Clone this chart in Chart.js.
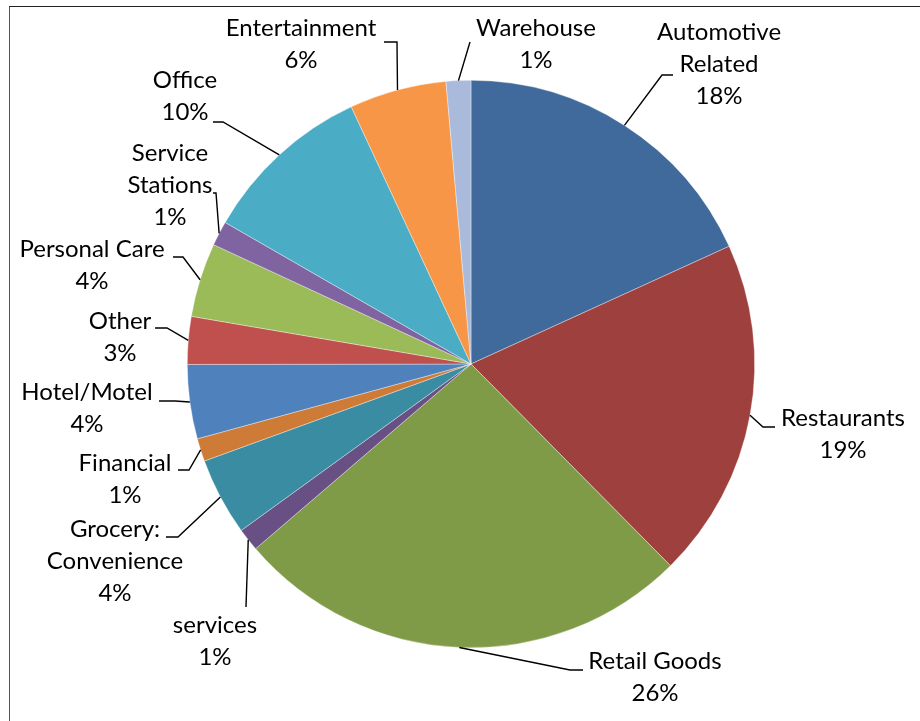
<!DOCTYPE html>
<html>
<head>
<meta charset="utf-8">
<script src="https://cdn.jsdelivr.net/npm/chart.js@4/dist/chart.umd.min.js"></script>
<style>
  html, body { margin: 0; padding: 0; background: #fff; }
  #wrap { position: relative; width: 920px; height: 721px; overflow: hidden; }
  #frame { position: absolute; left: 9px; top: 6px; width: 1000px; height: 1000px;
           border-top: 1.5px solid #222; border-left: 1.5px solid #555; box-sizing: border-box; }
  canvas { position: absolute; left: 0; top: 0; }
</style>
</head>
<body>
<div id="wrap">
  <div id="frame"></div>
  <canvas id="pie" width="920" height="721"></canvas>
</div>
<script>
const categories = [
  'Automotive Related', 'Restaurants', 'Retail Goods', 'services',
  'Grocery: Convenience', 'Financial', 'Hotel/Motel', 'Other',
  'Personal Care', 'Service Stations', 'Office', 'Entertainment', 'Warehouse'
];
const shares = [18.1, 19.3, 26.0, 1.3, 4.4, 1.3, 4.2, 2.7, 4.2, 1.4, 9.7, 5.5, 1.4];
const colors = [
  '#416A9C', '#9E413E', '#7F9B48', '#684F84', '#3A8CA3', '#CD7B36', '#4F81BD',
  '#C0504D', '#9BBB59', '#8064A2', '#4BACC6', '#F79646', '#A9BADA'
];

// where each label sits: text centre x, first line y, leader elbow and end
const labelLayout = [
  { wrap: true,  x: 719, y: 32,  elbow: [662, 75],  end: [673, 75] },
  { wrap: false, x: 843, y: 418, elbow: [763, 427], end: [775, 427] },
  { wrap: false, x: 655, y: 661, elbow: [570, 670], end: [583, 670] },
  { wrap: false, x: 215, y: 625, elbow: [246, 607], end: [246, 607] },
  { wrap: true,  x: 115, y: 529, elbow: [178, 537], end: [166, 537] },
  { wrap: false, x: 125, y: 463, elbow: [189, 470], end: [178, 470] },
  { wrap: false, x: 87,  y: 392, elbow: [175, 401], end: [159, 401] },
  { wrap: false, x: 120, y: 321, elbow: [167, 328], end: [155, 328] },
  { wrap: false, x: 92,  y: 249, elbow: [183, 257], end: [173, 257] },
  { wrap: true,  x: 170, y: 153, elbow: [216, 193], end: [213, 193] },
  { wrap: false, x: 185, y: 80,  elbow: [223, 122], end: [213, 122] },
  { wrap: false, x: 301, y: 28,  elbow: [397, 42],  end: [384, 42] },
  { wrap: false, x: 536, y: 28,  elbow: [470, 42],  end: [470, 42] }
];

const outsideLabels = {
  id: 'outsideLabels',
  afterDatasetsDraw(chart) {
    const ctx = chart.ctx;
    const meta = chart.getDatasetMeta(0);
    const values = chart.data.datasets[0].data;
    const total = values.reduce((a, b) => a + b, 0);
    ctx.save();
    meta.data.forEach((arc, i) => {
      const lay = labelLayout[i];
      const mid = (arc.startAngle + arc.endAngle) / 2;
      const px = arc.x + Math.cos(mid) * arc.outerRadius;
      const py = arc.y + Math.sin(mid) * arc.outerRadius;

      ctx.strokeStyle = '#000';
      ctx.lineWidth = 1.4;
      ctx.beginPath();
      ctx.moveTo(px, py);
      ctx.lineTo(lay.elbow[0], lay.elbow[1]);
      ctx.lineTo(lay.end[0], lay.end[1]);
      ctx.stroke();

      const name = chart.data.labels[i];
      const lines = lay.wrap ? name.split(' ') : [name];
      lines.push(Math.round(values[i] / total * 100) + '%');
      ctx.fillStyle = '#000';
      ctx.font = '24px Lato, "DejaVu Sans", sans-serif';
      ctx.textAlign = 'center';
      ctx.textBaseline = 'middle';
      lines.forEach((t, k) => ctx.fillText(t, lay.x, lay.y + k * 32));
    });
    ctx.restore();
  }
};

new Chart(document.getElementById('pie'), {
  type: 'pie',
  data: {
    labels: categories,
    datasets: [{
      data: shares,
      backgroundColor: colors,
      borderColor: 'rgba(255,255,255,0.6)',
      borderWidth: 0.6
    }]
  },
  options: {
    responsive: false,
    animation: false,
    layout: { padding: { left: 187, right: 165, top: 80, bottom: 73 } },
    plugins: {
      legend: { display: false },
      tooltip: { enabled: false }
    }
  },
  plugins: [outsideLabels]
});
</script>
</body>
</html>
